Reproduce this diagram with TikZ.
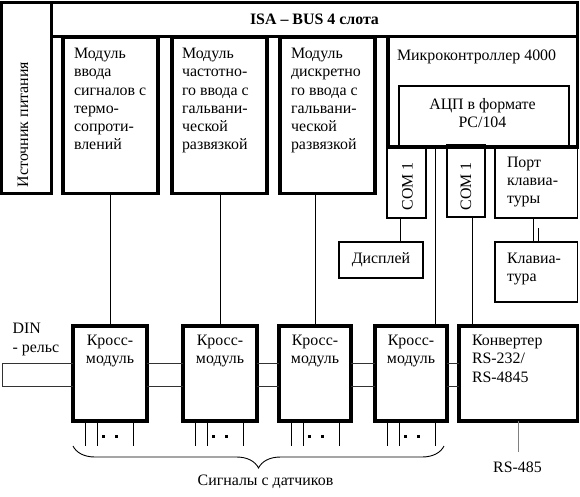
\documentclass[tikz,border=0pt]{standalone}
\usepackage{fontspec}
\setmainfont{Liberation Serif}
\usetikzlibrary{decorations.pathreplacing}

\begin{document}
\begin{tikzpicture}[x=1pt, y=-1pt,
  every node/.style={font=\fontsize{15.9}{18.3}\selectfont, inner sep=0pt, outer sep=0pt},
  blk/.style={draw, line width=3.2pt, anchor=north west},
  cross/.style={blk, line width=3.6pt, minimum height=95},
  small/.style={draw, line width=1.8pt, anchor=north west},
  txt/.style={anchor=north west, align=left},
  wire/.style={line width=0.9pt},
  rail/.style={line width=0.9pt, black!80}]
  \useasboundingbox (0,0) rectangle (580,496);
  % bus, power supply and I/O modules
  \node[blk, minimum width=50, minimum height=191] (pw) at (1.5,2.5) {};
  \node[rotate=90, anchor=base west] (pwt) at (28,187) {Источник питания};
  \node[blk, minimum width=526, minimum height=34] (isa) at (51.5,2.5) {\bfseries ISA – BUS 4 слота};
  \node[blk, minimum width=95, minimum height=156.5] (m1) at (63,37) {};
  \node[blk, minimum width=95, minimum height=156.5] (m2) at (172,37) {};
  \node[blk, minimum width=95, minimum height=156.5] (m3) at (280,37) {};
  \node[txt] (m1t) at (74,48) {Модуль\\ввода\\сигналов с\\термо-\\сопроти-\\влений};
  \node[txt] (m2t) at (182,48) {Модуль\\частотно-\\го ввода с\\гальвани-\\ческой\\развязкой};
  \node[txt] (m3t) at (291,48) {Модуль\\дискретно\\го ввода с\\гальвани-\\ческой\\развязкой};
  % microcontroller
  \node[blk, minimum width=189.5, minimum height=110.5] (mc) at (388,36.5) {};
  \node[txt] (mct) at (397,50) {Микроконтроллер 4000};
  \node[small, line width=2.2pt, minimum width=170, minimum height=61] (adc) at (399,86) {};
  \node[anchor=north, align=center] (adct) at (482.5,98) {АЦП в формате\\PC/104};
  \node[small, minimum width=39, minimum height=71] (com1) at (387,147) {};
  \node[small, minimum width=38, minimum height=72] (com2) at (447,145) {};
  \node[rotate=90] (c1t) at (407.5,186.5) {COM 1};
  \node[rotate=90] (c2t) at (466,186.5) {COM 1};
  \node[small, minimum width=82.5, minimum height=71] (port) at (495,147) {};
  \node[txt] (portt) at (507,156.7) {Порт\\клавиа-\\туры};
  \node[small, minimum width=84, minimum height=36] (disp) at (339,242) {Дисплей};
  \node[small, minimum width=82.5, minimum height=60] (kb) at (495,242) {};
  \node[txt] (kbt) at (507,252.7) {Клавиа-\\тура};
  % cross modules on the DIN rail
  \foreach \n/\x/\w in {1/73/74, 2/183/74, 3/279/72, 4/375/72} {
    \node[cross, minimum width=\w] (k\n) at (\x,326) {};
    \node[anchor=north, align=center] (k\n t) at ([yshift=-9pt]k\n.north) {Кросс-\\модуль};
    \foreach \dx in {12,24,60}
      \draw[wire] ([xshift=\dx pt]k\n.south west) -- ++(0,25);
    \fill ([shift={(29,14)}]k\n.south west) rectangle ++(3,3);
    \fill ([shift={(41.5,14)}]k\n.south west) rectangle ++(3,3);
  }
  \node[cross, minimum width=118.5] (cv) at (459,326) {};
  \node[txt] (cvt) at (472,335) {Конвертер\\RS-232/\\RS-4845};
  \node[txt] (din) at (12.7,323.3) {DIN\\- рельс};
  \draw[rail] (k1.west |- 0,363) -- (2,363) -- (2,386) -- (k1.west |- 0,386);
  \foreach \a/\b in {k1/k2, k2/k3, k3/k4, k4/cv} {
    \draw[rail] (\a.east |- 0,363) -- (\b.west |- 0,363);
    \draw[rail] (\a.east |- 0,386) -- (\b.west |- 0,386);
  }
  % connections
  \draw[wire] (k1.north) -- (k1.north |- m1.south);
  \draw[wire] (k2.north) -- (k2.north |- m2.south);
  \draw[wire] (k3.north) -- (k3.north |- m3.south);
  \draw[wire] ([xshift=24pt]k4.north) -- ([xshift=24pt]k4.north |- mc.south);
  \draw[wire] ([xshift=-6.5pt]com1.south) -- ([xshift=-6.5pt]com1.south |- disp.north);
  \draw[wire] ([xshift=6pt]com2.south) -- ([xshift=6pt]com2.south |- cv.north);
  \draw[wire] ([xshift=-3.25pt]port.south) -- ([xshift=-3.25pt]port.south |- kb.north);
  \draw[wire] ([xshift=2pt]kb.north) -- ++(0,-14);
  \draw[wire, gray] (cv.south) -- ++(0,31);
  \node[anchor=base] (rs) at (517.5,472) {RS-485};
  % sensor signals
  \coordinate (b1) at (73,446);
  \coordinate (b2) at (444,446);
  \draw[wire, decorate, decoration={brace, mirror, amplitude=22pt}] (b1) -- (b2);
  \node[anchor=base] (sig) at (265.5,485) {Сигналы с датчиков};
\end{tikzpicture}
\end{document}
